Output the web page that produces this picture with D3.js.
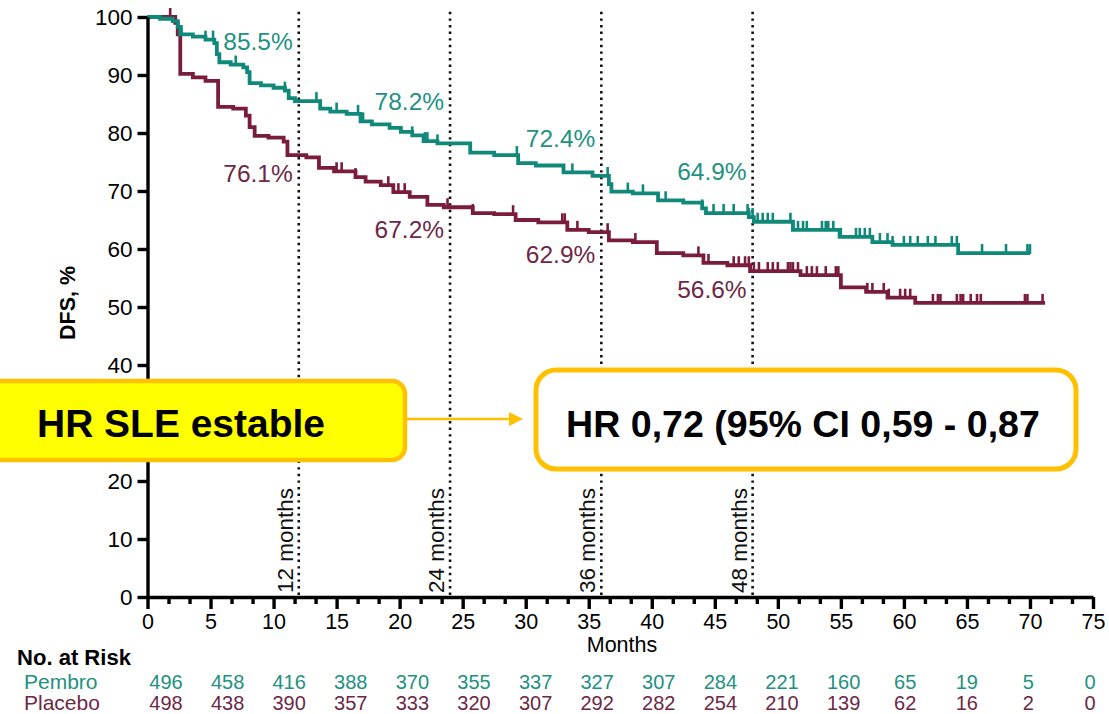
<!DOCTYPE html>
<html>
<head>
<meta charset="utf-8">
<script src="https://cdn.jsdelivr.net/npm/d3@7"></script>
<style>
  html, body { margin: 0; padding: 0; background: #fff; }
  svg { display: block; }
  text { font-family: "Liberation Sans", Arial, sans-serif; }
</style>
</head>
<body>
<svg id="chart" width="1109" height="714"></svg>
<script>
// ---------- DATA ----------
const pembroTime = [0, 1.0, 2.0, 2.4, 2.6, 3.6, 4.6, 5.3, 5.5, 5.7, 6.6, 7.6, 7.9, 8.1, 9.0, 10.0, 10.9, 11.2, 11.7, 13.7, 14.5, 15.8, 16.9, 17.8, 19.2, 20.1, 21.0, 21.9, 23.0, 25.6, 27.5, 29.4, 30.8, 33.0, 35.3, 36.6, 36.8, 38.5, 40.5, 42.5, 44.0, 44.3, 47.7, 48.1, 51.2, 54.9, 57.5, 59.1, 64.3, 70.0];
const pembroSurv = [100, 99.7, 99.3, 98.3, 97.0, 96.6, 96.1, 95.5, 93.6, 92.2, 91.8, 91.3, 90.5, 88.6, 88.2, 87.8, 87.3, 86.0, 85.5, 84.2, 83.7, 83.3, 82.0, 81.5, 80.9, 80.2, 79.6, 78.6, 78.2, 76.6, 76.2, 74.8, 74.4, 73.2, 72.6, 71.2, 69.9, 69.6, 68.4, 68.0, 67.0, 66.2, 65.5, 64.7, 63.3, 62.1, 61.2, 60.7, 59.3, 59.3];
const pembroCensor = [2.6, 2.7, 4.6, 5.2, 7.0, 10.9, 13.4, 13.7, 15.0, 16.7, 17.1, 21.0, 22.0, 22.2, 23.0, 29.3, 33.7, 36.5, 38.1, 39.3, 41.1, 44.0, 44.9, 45.7, 46.5, 47.6, 47.7, 48.0, 48.4, 48.8, 49.2, 49.6, 51.0, 51.2, 51.6, 52.0, 52.3, 53.5, 53.8, 54.0, 54.4, 55.0, 56.2, 56.5, 56.9, 57.3, 58.1, 58.7, 59.1, 60.0, 60.5, 61.1, 61.9, 62.5, 63.8, 64.2, 66.2, 68.1, 69.8, 70.0];

const placeboTime = [0, 2.2, 2.4, 2.6, 3.6, 4.6, 5.6, 6.8, 7.8, 8.1, 8.5, 9.6, 10.8, 11.1, 12.6, 13.6, 14.8, 16.5, 17.3, 18.5, 19.5, 20.8, 22.2, 23.5, 25.8, 27.5, 29.2, 31.0, 33.3, 35.0, 36.6, 38.5, 40.4, 42.5, 44.1, 46.0, 47.8, 51.8, 55.0, 57.0, 58.7, 60.9, 71.2];
const placeboSurv = [100, 99.0, 97.0, 90.2, 89.6, 89.0, 84.5, 84.2, 83.0, 81.0, 79.5, 79.2, 78.5, 76.2, 75.8, 74.0, 73.4, 72.4, 71.6, 71.0, 69.8, 69.0, 67.6, 67.2, 66.2, 66.0, 65.0, 64.6, 63.3, 62.9, 61.5, 61.2, 59.3, 58.9, 57.6, 57.2, 56.2, 55.5, 53.4, 52.6, 51.6, 50.7, 50.7];
const placeboCensor = [1.8, 15.0, 15.4, 16.5, 19.1, 19.9, 20.4, 22.2, 23.8, 25.8, 29.0, 32.9, 33.1, 34.1, 36.5, 38.7, 43.7, 44.5, 46.5, 46.9, 47.4, 47.7, 48.1, 48.5, 49.2, 49.6, 50.0, 50.8, 51.0, 51.2, 51.6, 52.3, 52.7, 53.1, 53.8, 54.6, 54.8, 57.1, 57.5, 58.4, 58.8, 59.7, 60.1, 60.5, 62.3, 62.7, 62.9, 64.2, 64.5, 64.7, 65.3, 65.8, 66.1, 69.6, 69.8, 71.0];

const landmarkMonths = [12, 24, 36, 48];
const landmarkLabels = ["12 months", "24 months", "36 months", "48 months"];
const pembroLandmark = ["85.5%", "78.2%", "72.4%", "64.9%"];
const placeboLandmark = ["76.1%", "67.2%", "62.9%", "56.6%"];

const riskMonths = [0, 5, 10, 15, 20, 25, 30, 35, 40, 45, 50, 55, 60, 65, 70, 75];
const pembroRisk = [496, 458, 416, 388, 370, 355, 337, 327, 307, 284, 221, 160, 65, 19, 5, 0];
const placeboRisk = [498, 438, 390, 357, 333, 320, 307, 292, 282, 254, 210, 139, 62, 16, 2, 0];

const yTicks = [0, 10, 20, 30, 40, 50, 60, 70, 80, 90, 100];
const yHiddenTick = 30; // covered by the yellow annotation box in the original
const xTicks = [0, 5, 10, 15, 20, 25, 30, 35, 40, 45, 50, 55, 60, 65, 70, 75];

const hrLeftText = "HR SLE estable";
const hrRightText = "HR 0,72 (95% CI 0,59 - 0,87";

// ---------- STYLE ----------
const teal = "#10897a", maroon = "#7a1c3d";
const tealText = "#22917f", maroonText = "#6c2846";
const boxOrange = "#ffc000";

const svg = d3.select("#chart");
const x = d3.scaleLinear().domain([0, 75]).range([147.5, 1093]);
const y = d3.scaleLinear().domain([0, 100]).range([597, 17]);
const riskX = d3.scaleLinear().domain([0, 75]).range([166, 1090]);

// dotted landmark lines
landmarkMonths.forEach((m, i) => {
  svg.append("line")
    .attr("x1", x(m)).attr("x2", x(m))
    .attr("y1", y(100.9)).attr("y2", y(0))
    .attr("stroke", "#111").attr("stroke-width", 2.6)
    .attr("stroke-dasharray", "2.4,4.2");
  svg.append("text")
    .attr("transform", `translate(${x(m) - 6},${y(0) - 4}) rotate(-90)`)
    .attr("font-size", 22.5).attr("fill", "#111")
    .text(landmarkLabels[i]);
});

// curves
function stepAt(times, surv, t) {
  const i = d3.bisectRight(times, t) - 1;
  return surv[Math.max(0, i)];
}
function drawCurve(times, surv, censor, color) {
  const pts = times.map((t, i) => [t, surv[i]]);
  const line = d3.line().x(d => x(d[0])).y(d => y(d[1])).curve(d3.curveStepAfter);
  svg.append("path").attr("d", line(pts))
    .attr("fill", "none").attr("stroke", color).attr("stroke-width", 3.8)
    .attr("stroke-linejoin", "miter");
  svg.append("g").selectAll("line").data(censor).join("line")
    .attr("x1", d => x(d)).attr("x2", d => x(d))
    .attr("y1", d => y(stepAt(times, surv, d)) + 1)
    .attr("y2", d => y(stepAt(times, surv, d)) - 9)
    .attr("stroke", color).attr("stroke-width", 2.6);
}
drawCurve(placeboTime, placeboSurv, placeboCensor, maroon);
drawCurve(pembroTime, pembroSurv, pembroCensor, teal);

// landmark percentage labels
const pembroY = [50, 110, 147, 180];
const placeboYb = [182, 238, 263, 298];
landmarkMonths.forEach((m, i) => {
  svg.append("text").attr("x", x(m) - 6).attr("y", pembroY[i])
    .attr("text-anchor", "end").attr("font-size", 24.5).attr("fill", tealText)
    .text(pembroLandmark[i]);
  svg.append("text").attr("x", x(m) - 6).attr("y", placeboYb[i])
    .attr("text-anchor", "end").attr("font-size", 24.5).attr("fill", maroonText)
    .text(placeboLandmark[i]);
});

// axes
const yAxis = svg.append("g").attr("transform", `translate(${x(0)},0)`)
  .call(d3.axisLeft(y).tickValues(yTicks).tickSize(10).tickSizeOuter(0).tickPadding(5)
    .tickFormat(d => d === yHiddenTick ? "" : d));
yAxis.select(".domain").attr("stroke", "#000").attr("stroke-width", 3.4);
yAxis.selectAll(".tick line").attr("stroke", "#000").attr("stroke-width", 3.4);
yAxis.selectAll(".tick text").attr("font-size", 22.5).attr("fill", "#000")
  .attr("font-family", '"Liberation Sans", Arial, sans-serif');

const minorTicks = d3.range(1, 45).map(k => k * 5 / 3).filter(v => Math.abs(v / 5 - Math.round(v / 5)) > 1e-6);
const xMinor = svg.append("g").attr("transform", `translate(0,${y(0)})`)
  .call(d3.axisBottom(x).tickValues(minorTicks).tickSize(7).tickFormat(""));
xMinor.select(".domain").remove();
xMinor.selectAll(".tick line").attr("stroke", "#000").attr("stroke-width", 3.4);

const xAxis = svg.append("g").attr("transform", `translate(0,${y(0)})`)
  .call(d3.axisBottom(x).tickValues(xTicks).tickSize(12).tickSizeOuter(0).tickPadding(5));
xAxis.select(".domain").attr("stroke", "#000").attr("stroke-width", 3.4);
xAxis.selectAll(".tick line").attr("stroke", "#000").attr("stroke-width", 3.4);
xAxis.selectAll(".tick text").attr("font-size", 21.5).attr("fill", "#000")
  .attr("font-family", '"Liberation Sans", Arial, sans-serif');

svg.append("text").attr("x", 622).attr("y", 652).attr("text-anchor", "middle")
  .attr("font-size", 21.5).attr("fill", "#000").text("Months");
svg.append("text").attr("transform", "translate(75,303) rotate(-90)")
  .attr("text-anchor", "middle").attr("font-size", 21.5).attr("font-weight", "bold")
  .attr("fill", "#000").text("DFS, %");

// risk table
svg.append("text").attr("x", 17).attr("y", 665).attr("font-size", 21)
  .attr("font-weight", "bold").attr("fill", "#000").text("No. at Risk")
  .call(s => { const w = s.node().getComputedTextLength(); s.attr("font-size", 21 * 114 / w); });
svg.append("text").attr("x", 24).attr("y", 689).attr("font-size", 21)
  .attr("fill", tealText).text("Pembro");
svg.append("text").attr("x", 24).attr("y", 710).attr("font-size", 21)
  .attr("fill", maroonText).text("Placebo");
svg.append("g").selectAll("text").data(riskMonths).join("text")
  .attr("x", d => riskX(d)).attr("y", 689).attr("text-anchor", "middle")
  .attr("font-size", 20).attr("fill", tealText).text((d, i) => pembroRisk[i]);
svg.append("g").selectAll("text").data(riskMonths).join("text")
  .attr("x", d => riskX(d)).attr("y", 710).attr("text-anchor", "middle")
  .attr("font-size", 20).attr("fill", maroonText).text((d, i) => placeboRisk[i]);

// annotation boxes
svg.append("rect").attr("x", -12).attr("y", 381).attr("width", 417).attr("height", 79)
  .attr("rx", 13).attr("fill", "#ffff00").attr("stroke", boxOrange).attr("stroke-width", 4.5);
function fitText(sel, target) {
  const w = sel.node().getComputedTextLength();
  const fs = +sel.attr("font-size");
  sel.attr("font-size", fs * target / w);
}
const t1 = svg.append("text").attr("x", 181).attr("y", 437).attr("text-anchor", "middle")
  .attr("font-family", "Lato, 'Open Sans', sans-serif").attr("font-weight", "bold")
  .attr("font-size", 40).attr("fill", "#000").text(hrLeftText);
fitText(t1, 288);

svg.append("line").attr("x1", 407).attr("x2", 511).attr("y1", 419).attr("y2", 419)
  .attr("stroke", boxOrange).attr("stroke-width", 2.5);
svg.append("path").attr("d", "M509,412 L523,419 L509,426 Z").attr("fill", boxOrange);

svg.append("rect").attr("x", 536).attr("y", 370).attr("width", 540).attr("height", 99)
  .attr("rx", 20).attr("fill", "#fff").attr("stroke", boxOrange).attr("stroke-width", 5);
const t2 = svg.append("text").attr("x", 803).attr("y", 437).attr("text-anchor", "middle")
  .attr("font-family", "Lato, 'Open Sans', sans-serif").attr("font-weight", "bold")
  .attr("font-size", 36).attr("fill", "#000").text(hrRightText);
fitText(t2, 474);
</script>
</body>
</html>
